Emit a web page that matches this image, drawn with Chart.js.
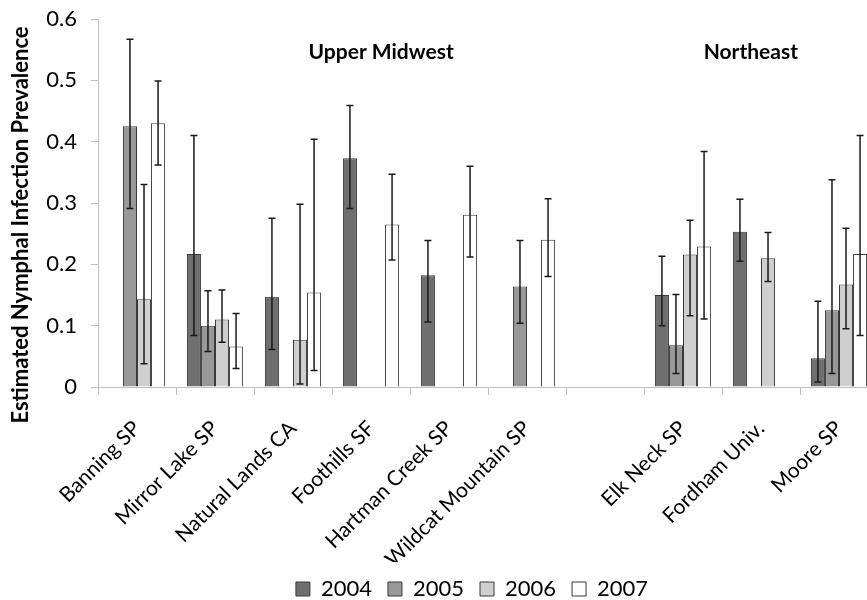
<!DOCTYPE html>
<html>
<head>
<meta charset="utf-8">
<script src="https://cdn.jsdelivr.net/npm/chart.js@4"></script>
<style>
  body { margin: 0; overflow: hidden; background: #fff; }
</style>
</head>
<body>
<canvas id="prevChart" width="944" height="600"></canvas>
<script>
const sites = ['Banning SP', 'Mirror Lake SP', 'Natural Lands CA', 'Foothills SF', 'Hartman Creek SP',
    'Wildcat Mountain SP', '', 'Elk Neck SP', 'Fordham Univ.', 'Moore SP'];
const years = ['2004', '2005', '2006', '2007'];

// estimated prevalence per year (null = no sample)
const prev2004 = [null, 0.217, 0.147, 0.373, 0.182, null, null, 0.150, 0.253, 0.047];
const prev2005 = [0.425, 0.100, null, null, null, 0.164, null, 0.068, null, 0.125];
const prev2006 = [0.143, 0.110, 0.077, null, null, null, null, 0.216, 0.210, 0.167];
const prev2007 = [0.430, 0.066, 0.154, 0.265, 0.281, 0.240, null, 0.229, null, 0.217];

// confidence interval limits
const low2004 = [null, 0.084, 0.061, 0.291, 0.106, null, null, 0.100, 0.205, 0.008];
const high2004 = [null, 0.410, 0.275, 0.459, 0.239, null, null, 0.213, 0.306, 0.140];
const low2005 = [0.291, 0.058, null, null, null, 0.104, null, 0.022, null, 0.022];
const high2005 = [0.567, 0.157, null, null, null, 0.239, null, 0.151, null, 0.338];
const low2006 = [0.038, 0.073, 0.005, null, null, null, null, 0.116, 0.172, 0.095];
const high2006 = [0.330, 0.158, 0.298, null, null, null, null, 0.272, 0.252, 0.259];
const low2007 = [0.362, 0.030, 0.027, 0.207, 0.212, 0.180, null, 0.111, null, 0.084];
const high2007 = [0.499, 0.120, 0.404, 0.347, 0.360, 0.307, null, 0.384, null, 0.410];

const regionNames = ['Upper Midwest', 'Northeast'];
const yTitle = 'Estimated Nymphal Infection Prevalence';

const fillColors = ['#6f6f6f', '#989898', '#cfcfcf', '#ffffff'];
const seriesValues = [prev2004, prev2005, prev2006, prev2007];
const seriesLow = [low2004, low2005, low2006, low2007];
const seriesHigh = [high2004, high2005, high2006, high2007];

const padBottom = -10;

// draw the error bars on top of the bars
const errorBarPlugin = {
    id: 'errorBars',
    afterDatasetsDraw(chart) {
        const ctx = chart.ctx;
        const yScale = chart.scales.y;
        ctx.save();
        ctx.strokeStyle = '#1a1a1a';
        ctx.lineWidth = 1.5;
        chart.data.datasets.forEach((ds, i) => {
            const meta = chart.getDatasetMeta(i);
            meta.data.forEach((bar, j) => {
                const lo = ds.errLow[j];
                const hi = ds.errHigh[j];
                if (lo == null || hi == null) return;
                const x = bar.x;
                const yLo = yScale.getPixelForValue(lo);
                const yHi = yScale.getPixelForValue(hi);
                ctx.beginPath();
                ctx.moveTo(x, yLo);
                ctx.lineTo(x, yHi);
                ctx.moveTo(x - 3.5, yLo);
                ctx.lineTo(x + 3.5, yLo);
                ctx.moveTo(x - 3.5, yHi);
                ctx.lineTo(x + 3.5, yHi);
                ctx.stroke();
            });
        });
        ctx.restore();
    }
};

// region headings and the y axis title (which runs past the plot area)
const textPlugin = {
    id: 'labels',
    afterDraw(chart) {
        const ctx = chart.ctx;
        const xScale = chart.scales.x;
        const yScale = chart.scales.y;
        ctx.save();
        ctx.font = 'bold 21px Lato';
        ctx.fillStyle = '#000';
        ctx.textAlign = 'center';
        ctx.textBaseline = 'middle';
        const headY = yScale.getPixelForValue(0.546);
        ctx.fillText(regionNames[0], xScale.getPixelForValue(3.13), headY);
        ctx.fillText(regionNames[1], xScale.getPixelForValue(7.87), headY);

        ctx.translate(21, (yScale.top + yScale.bottom) / 2 + 22);
        ctx.rotate(-Math.PI / 2);
        ctx.font = 'bold 22px Lato';
        ctx.fillText(yTitle, 0, 0);
        ctx.restore();
    }
};

const ctx = document.getElementById('prevChart').getContext('2d');

new Chart(ctx, {
    type: 'bar',
    data: {
        labels: sites,
        datasets: years.map((yr, i) => ({
            label: yr,
            data: seriesValues[i],
            errLow: seriesLow[i],
            errHigh: seriesHigh[i],
            backgroundColor: fillColors[i],
            borderColor: '#3a3a3a',
            borderWidth: 1,
            barPercentage: 1,
            categoryPercentage: 0.72
        }))
    },
    options: {
        responsive: false,
        animation: false,
        layout: {
            autoPadding: false,
            padding: { top: 19, right: 0, left: 0, bottom: padBottom }
        },
        plugins: {
            legend: {
                position: 'bottom',
                labels: {
                    font: { family: 'Lato', size: 22 },
                    color: '#000',
                    boxWidth: 14,
                    boxHeight: 14,
                    padding: 16
                }
            },
            tooltip: { enabled: false }
        },
        scales: {
            x: {
                afterFit: function(scale) {
                    const legendH = scale.chart.legend ? scale.chart.legend.height : 0;
                    scale.height = scale.chart.height - 387 - legendH - padBottom;
                },
                grid: {
                    offset: true,
                    drawOnChartArea: false,
                    drawTicks: true,
                    tickLength: 8,
                    color: '#bfbfbf'
                },
                border: { color: '#bfbfbf' },
                ticks: {
                    autoSkip: false,
                    minRotation: 45,
                    maxRotation: 45,
                    padding: 21,
                    color: '#000',
                    font: { family: 'Lato', size: 21 }
                }
            },
            y: {
                min: 0,
                max: 0.6,
                afterFit: function(scale) {
                    scale.width = 98;
                    scale.paddingTop = 0;
                    scale.paddingBottom = 0;
                },
                grid: {
                    drawOnChartArea: false,
                    drawTicks: true,
                    tickLength: 7,
                    color: '#bfbfbf'
                },
                border: { color: '#bfbfbf' },
                ticks: {
                    stepSize: 0.1,
                    color: '#000',
                    padding: 14,
                    font: { family: 'Lato', size: 22 },
                    callback: function(value) {
                        return Math.round(value * 10) / 10;
                    }
                }
            },
            // empty right axis: keeps room on the right so the plot runs to x=878
            yRight: {
                position: 'right',
                min: 0,
                max: 1,
                afterFit: function(scale) {
                    scale.width = 66;
                    scale.paddingTop = 0;
                    scale.paddingBottom = 0;
                },
                grid: { display: false },
                border: { display: false },
                ticks: { display: false }
            }
        }
    },
    plugins: [errorBarPlugin, textPlugin]
});
</script>
</body>
</html>
